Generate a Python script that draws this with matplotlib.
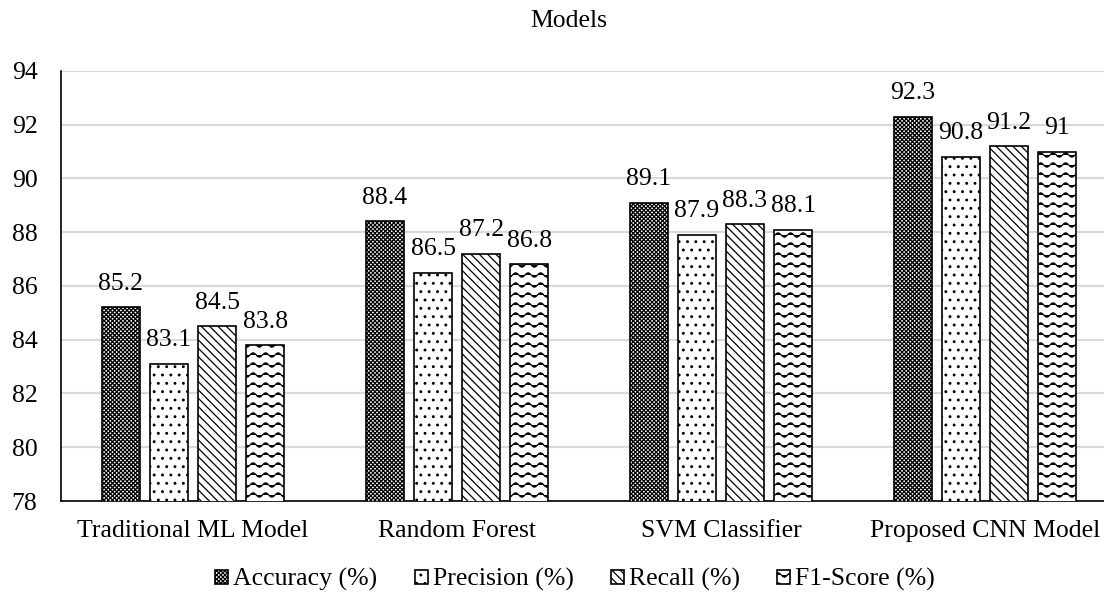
import warnings
import numpy as np
import matplotlib
matplotlib.use('Agg')
import matplotlib.pyplot as plt
from matplotlib import hatch as mhatch
from matplotlib.path import Path

warnings.filterwarnings('ignore')

models = ['Traditional ML Model', 'Random Forest', 'SVM Classifier', 'Proposed CNN Model']
metrics = ['Accuracy (%)', 'Precision (%)', 'Recall (%)', 'F1-Score (%)']
accuracy = [85.2, 88.4, 89.1, 92.3]
precision = [83.1, 86.5, 87.9, 90.8]
recall = [84.5, 87.2, 88.3, 91.2]
f1_score = [83.8, 86.8, 88.1, 91.0]


class WaveHatch(mhatch.HatchPatternBase):
    """Wavy horizontal lines, selected with '~' in the hatch string."""

    def __init__(self, hatch, density):
        self.num_rows = hatch.count('~') * 5
        self.periods = 8
        self.pts = self.periods * 8 + 1
        self.num_vertices = self.num_rows * self.pts

    def set_vertices_and_codes(self, vertices, codes):
        xs = np.linspace(0.0, 1.0, self.pts)
        wave = 0.022 * np.sin(2 * np.pi * self.periods * xs)
        for r in range(self.num_rows):
            y0 = (r + 0.5) / self.num_rows
            seg = slice(r * self.pts, (r + 1) * self.pts)
            vertices[seg, 0] = xs
            vertices[seg, 1] = y0 + wave
            codes[seg] = Path.LINETO
            codes[r * self.pts] = Path.MOVETO


mhatch._hatch_types.append(WaveHatch)

plt.rcParams['font.family'] = ['Liberation Serif', 'DejaVu Serif']
plt.rcParams['hatch.linewidth'] = 0.9

fig = plt.figure(figsize=(11.04, 5.99), dpi=100)
ax = fig.add_axes([0.0553, 0.1636, 0.9565, 0.7179])

series = [accuracy, precision, recall, f1_score]
hatches = ['xxxxxxxx', '..', '\\\\\\\\', '~~']
x = np.arange(len(models))
step = 0.182
width = 0.144

for i, (vals, name, h) in enumerate(zip(series, metrics, hatches)):
    pos = x + (i - 1.5) * step
    bars = ax.bar(pos, vals, width, bottom=0, color='white', edgecolor='black',
                  linewidth=1.2, hatch=h, label=name, zorder=3)
    for b, v in zip(bars, vals):
        ax.annotate(f'{v:g}', (b.get_x() + b.get_width() / 2, v),
                    xytext=(0, 9), textcoords='offset points',
                    ha='center', va='bottom', fontsize=18.5)

ax.set_ylim(78, 94)
ax.set_yticks(np.arange(78, 95, 2))
ax.set_xlim(-0.5, 3.5)
ax.set_xticks(x)
ax.set_xticklabels(models)
ax.tick_params(axis='both', length=0, labelsize=18.5)
ax.tick_params(axis='y', pad=17)
ax.tick_params(axis='x', pad=14)
ax.grid(axis='y', color='#d9d9d9', linewidth=1.5, zorder=0)
ax.set_axisbelow(True)
for s in ['top', 'right']:
    ax.spines[s].set_visible(False)
ax.spines['left'].set_linewidth(1.2)
ax.spines['bottom'].set_linewidth(1.2)

fig.text(0.515, 0.965, 'Models', ha='center', va='center', fontsize=18.5)

fig.legend(loc='center', bbox_to_anchor=(0.521, 0.032), ncol=4, frameon=False,
           fontsize=18.5, handlelength=0.5, handleheight=0.5, handletextpad=0.2,
           columnspacing=1.45)

fig.savefig('out.png', dpi=100)
